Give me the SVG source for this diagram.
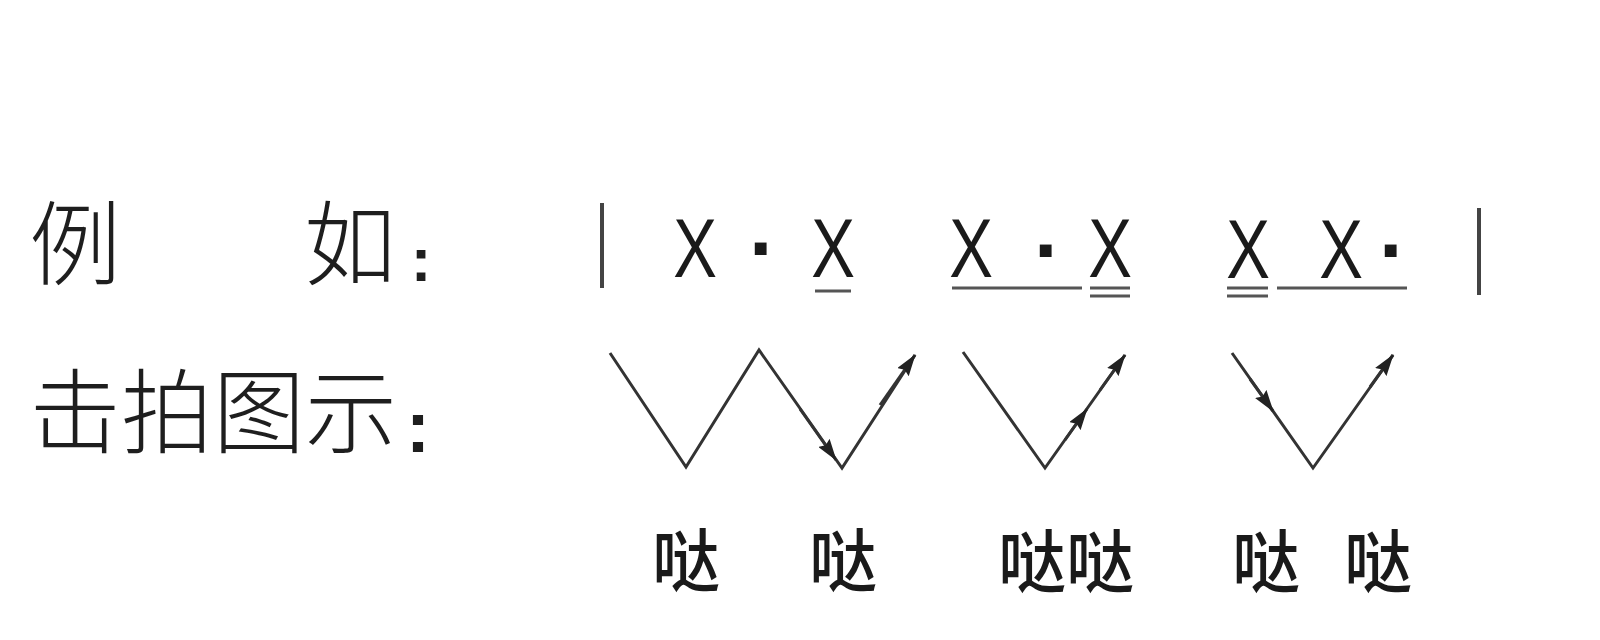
<svg xmlns="http://www.w3.org/2000/svg" width="1600" height="640" viewBox="0 0 1600 640">
<style>
.lbl{font-family:"Noto Sans CJK SC","Noto Sans",sans-serif;font-size:92px;font-weight:300;fill:#1e1e1e}
.col{font-family:"Liberation Sans",Arial,sans-serif;font-weight:bold;fill:#1e1e1e;text-anchor:middle}
.x{font-family:"Liberation Sans",Arial,sans-serif;font-size:84px;fill:#1a1a1a;text-anchor:middle}
.dot{font-family:"Liberation Sans",Arial,sans-serif;font-size:84px;font-weight:bold;fill:#1a1a1a;text-anchor:middle}
.syl{font-family:"Noto Sans CJK SC","Noto Sans",sans-serif;font-size:68px;font-weight:500;fill:#1a1a1a;text-anchor:middle}
.bar{stroke:#444;stroke-width:4;fill:none}
.ul{stroke:#555;stroke-width:3;fill:none}
.stroke{stroke:#333;stroke-width:3;fill:none;stroke-linejoin:miter}
.arr{stroke:#333;stroke-width:3;fill:none;marker-end:url(#ah)}
</style>
<defs>
<marker id="ah" viewBox="0 0 22 14" refX="21" refY="7" markerWidth="22" markerHeight="14" markerUnits="userSpaceOnUse" orient="auto">
<path d="M0,0 L22,7 L0,14 L3,7 z" fill="#222"/>
</marker>
</defs>
<rect width="1600" height="640" fill="#ffffff"/>

<g id="label-example">
<text class="lbl" x="29" y="278">例</text>
<text class="lbl" x="304" y="278">如</text>
<text class="col" x="421" y="281" font-size="62">:</text>
</g>
<g id="label-diagram">
<text class="lbl" x="29" y="446">击拍图示</text>
<text class="col" x="418" y="452" font-size="72">:</text>
</g>

<g id="barlines">
<line class="bar" x1="602" y1="203" x2="602" y2="288"/>
<line class="bar" x1="1479" y1="208" x2="1479" y2="295"/>
</g>

<g id="beat1-notes">
<text class="x" transform="translate(695,277) scale(0.78,1)">X</text>
<text class="dot" x="763" y="277">·</text>
<text class="x" transform="translate(833,277) scale(0.78,1)">X</text>
<line class="ul" x1="815" y1="291" x2="851" y2="291"/>
</g>

<g id="beat2-notes">
<text class="x" transform="translate(971,277) scale(0.78,1)">X</text>
<text class="dot" x="1048" y="279">·</text>
<text class="x" transform="translate(1110,277) scale(0.78,1)">X</text>
<line class="ul" x1="952" y1="288" x2="1082" y2="288"/>
<line class="ul" x1="1090" y1="288" x2="1130" y2="288"/>
<line class="ul" x1="1090" y1="296" x2="1130" y2="296"/>
</g>

<g id="beat3-notes">
<text class="x" transform="translate(1248,278) scale(0.78,1)">X</text>
<text class="x" transform="translate(1341,278) scale(0.78,1)">X</text>
<text class="dot" x="1393" y="279">·</text>
<line class="ul" x1="1227" y1="288" x2="1268" y2="288"/>
<line class="ul" x1="1227" y1="296" x2="1268" y2="296"/>
<line class="ul" x1="1277" y1="288" x2="1407" y2="288"/>
</g>

<g id="connectors">
<g id="beat1-strokes">
<polyline class="stroke" points="610,353 686,467 759,350 842,468 915,355"/>
<line class="arr" x1="800" y1="409" x2="836" y2="460"/>
<line class="arr" x1="880" y1="405" x2="915" y2="355"/>
</g>
<g id="beat2-strokes">
<polyline class="stroke" points="963,352 1045,468 1125,355"/>
<line class="arr" x1="1065" y1="440" x2="1087" y2="409"/>
<line class="arr" x1="1100" y1="390" x2="1125" y2="355"/>
</g>
<g id="beat3-strokes">
<polyline class="stroke" points="1232,353 1313,468 1393,355"/>
<line class="arr" x1="1250" y1="379" x2="1273" y2="411"/>
<line class="arr" x1="1370" y1="387" x2="1393" y2="355"/>
</g>
</g>

<g id="syllables">
<text class="syl" x="686" y="586">哒</text>
<text class="syl" x="843" y="586">哒</text>
<text class="syl" x="1032" y="587">哒</text>
<text class="syl" x="1100" y="587">哒</text>
<text class="syl" x="1266" y="587">哒</text>
<text class="syl" x="1378" y="587">哒</text>
</g>
</svg>
